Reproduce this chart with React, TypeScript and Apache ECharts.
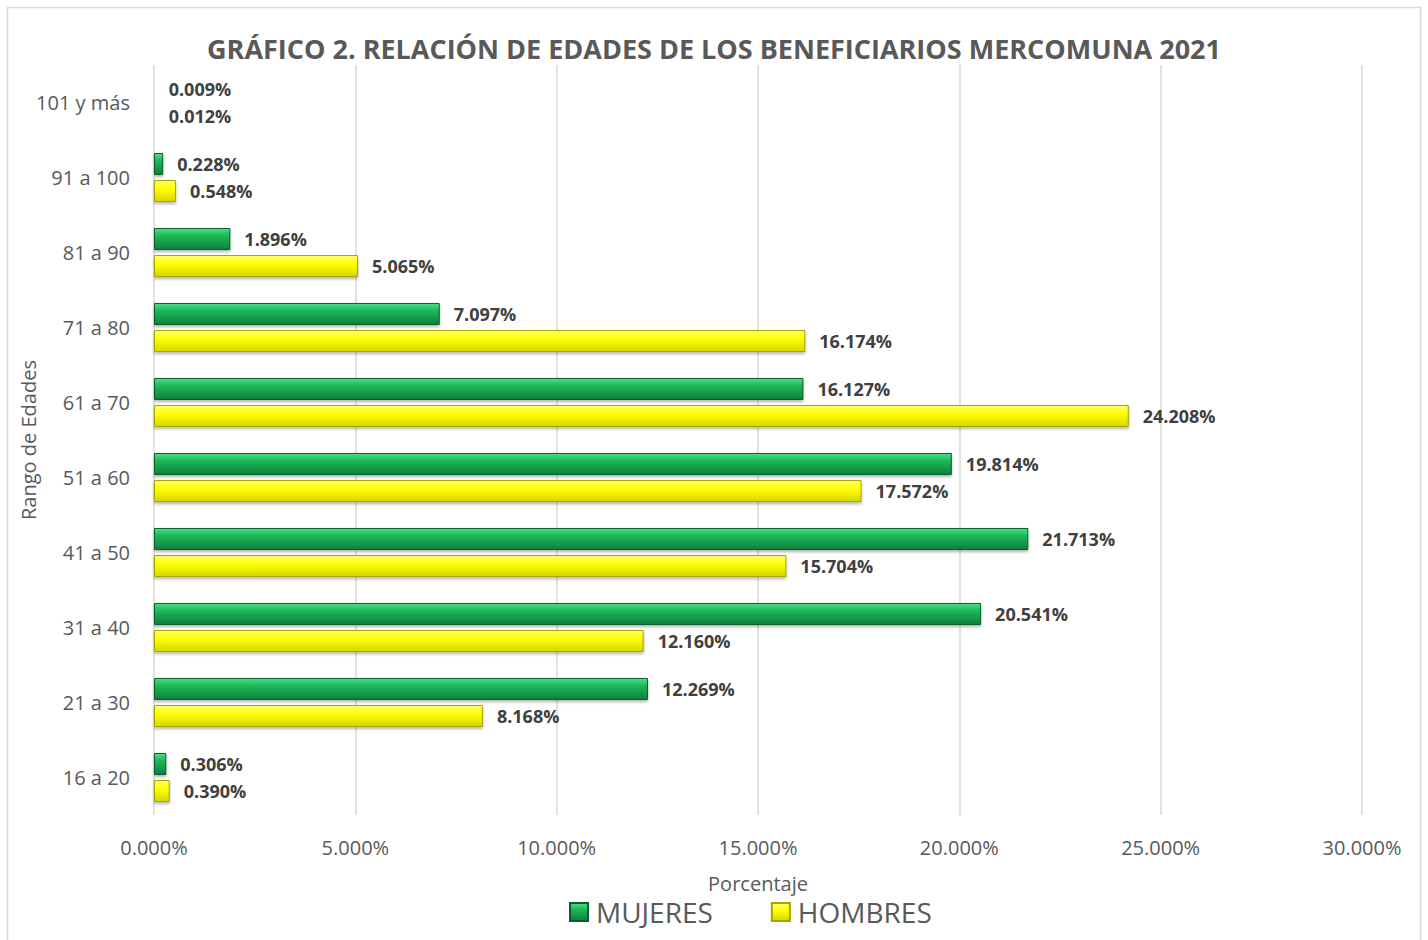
import React, { useEffect, useRef } from "react";
import * as echarts from "echarts";

const categories = ["16 a 20", "21 a 30", "31 a 40", "41 a 50", "51 a 60", "61 a 70", "71 a 80", "81 a 90", "91 a 100", "101 y más"];
const mujeres = [0.306, 12.269, 20.541, 21.713, 19.814, 16.127, 7.097, 1.896, 0.228, 0.009];
const hombres = [0.39, 8.168, 12.16, 15.704, 17.572, 24.208, 16.174, 5.065, 0.548, 0.012];
const xTicks = { min: 0, max: 30, interval: 5 };

const FONT = "'Open Sans', 'Noto Sans', sans-serif";

export default function App() {
  const ref = useRef<HTMLDivElement>(null);
  useEffect(() => {
    if (!ref.current) return;
    const chart = echarts.init(ref.current, null, { renderer: "svg" });
    const label = {
      show: true,
      position: "right",
      distance: 14,
      fontFamily: FONT,
      fontWeight: "bold",
      fontSize: 18,
      color: "#404040",
      formatter: (p: any) => p.value.toFixed(3) + "%",
    };
    chart.setOption({
      animation: false,
      backgroundColor: "#ffffff",
      title: {
        text: "GRÁFICO 2. RELACIÓN DE EDADES DE LOS BENEFICIARIOS MERCOMUNA 2021",
        left: "center",
        top: 30,
        textStyle: { fontFamily: FONT, fontWeight: "bold", fontSize: 27, color: "#595959" },
      },
      graphic: [
        {
          type: "rect",
          shape: { x: 7.5, y: 7.5, width: 1413, height: 940 },
          style: { fill: "none", stroke: "#d9d9d9", lineWidth: 1.5 },
          silent: true,
        },
      ],
      legend: {
        data: ["MUJERES", "HOMBRES"],
        bottom: 9,
        left: 564,
        itemWidth: 18,
        itemHeight: 18,
        itemGap: 58,
        icon: "rect",
        textStyle: { fontFamily: FONT, fontSize: 28, color: "#595959", padding: [0, 0, 0, 3] },
      },
      grid: { left: 154, right: 66, top: 65, bottom: 125, outerBoundsMode: "none", containLabel: false },
      xAxis: {
        type: "value",
        min: xTicks.min,
        max: xTicks.max,
        interval: xTicks.interval,
        name: "Porcentaje",
        nameLocation: "middle",
        nameGap: 58,
        nameMoveOverlap: false,
        nameTextStyle: { fontFamily: FONT, fontSize: 20, color: "#595959" },
        axisLabel: {
          fontFamily: FONT,
          fontSize: 20,
          color: "#595959",
          margin: 22,
          formatter: (v: number) => v.toFixed(3) + "%",
        },
        axisLine: { show: false },
        axisTick: { show: false },
        splitLine: { show: true, lineStyle: { color: "#d9d9d9", width: 1.5 } },
      },
      yAxis: {
        type: "category",
        data: categories,
        name: "Rango de Edades",
        nameLocation: "middle",
        nameGap: 116,
        nameMoveOverlap: false,
        nameTextStyle: { fontFamily: FONT, fontSize: 20, color: "#595959" },
        axisLabel: { fontFamily: FONT, fontSize: 20, color: "#595959", margin: 24 },
        axisLine: { show: false },
        axisTick: { show: false },
      },
      series: [
        {
          name: "MUJERES",
          type: "bar",
          data: mujeres,
          barWidth: 22,
          barGap: "23%",
          label,
          itemStyle: {
            color: new echarts.graphic.LinearGradient(0, 0, 0, 1, [
              { offset: 0, color: "#4be08a" },
              { offset: 0.35, color: "#1db858" },
              { offset: 1, color: "#0f7f3c" },
            ]),
            borderColor: "#0b5e2c",
            borderWidth: 1,
            shadowBlur: 3,
            shadowOffsetY: 2,
            shadowColor: "rgba(0,0,0,0.3)",
          },
        },
        {
          name: "HOMBRES",
          type: "bar",
          data: hombres,
          barWidth: 22,
          barGap: "23%",
          label,
          itemStyle: {
            color: new echarts.graphic.LinearGradient(0, 0, 0, 1, [
              { offset: 0, color: "#ffff70" },
              { offset: 0.4, color: "#ffff00" },
              { offset: 1, color: "#d6d600" },
            ]),
            borderColor: "#a6a600",
            borderWidth: 1,
            shadowBlur: 3,
            shadowOffsetY: 2,
            shadowColor: "rgba(0,0,0,0.3)",
          },
        },
      ],
    });
    return () => chart.dispose();
  }, []);
  return (
    <div
      ref={ref}
      style={{ position: "fixed", left: 0, top: 0, width: 1428, height: 940 }}
    />
  );
}
